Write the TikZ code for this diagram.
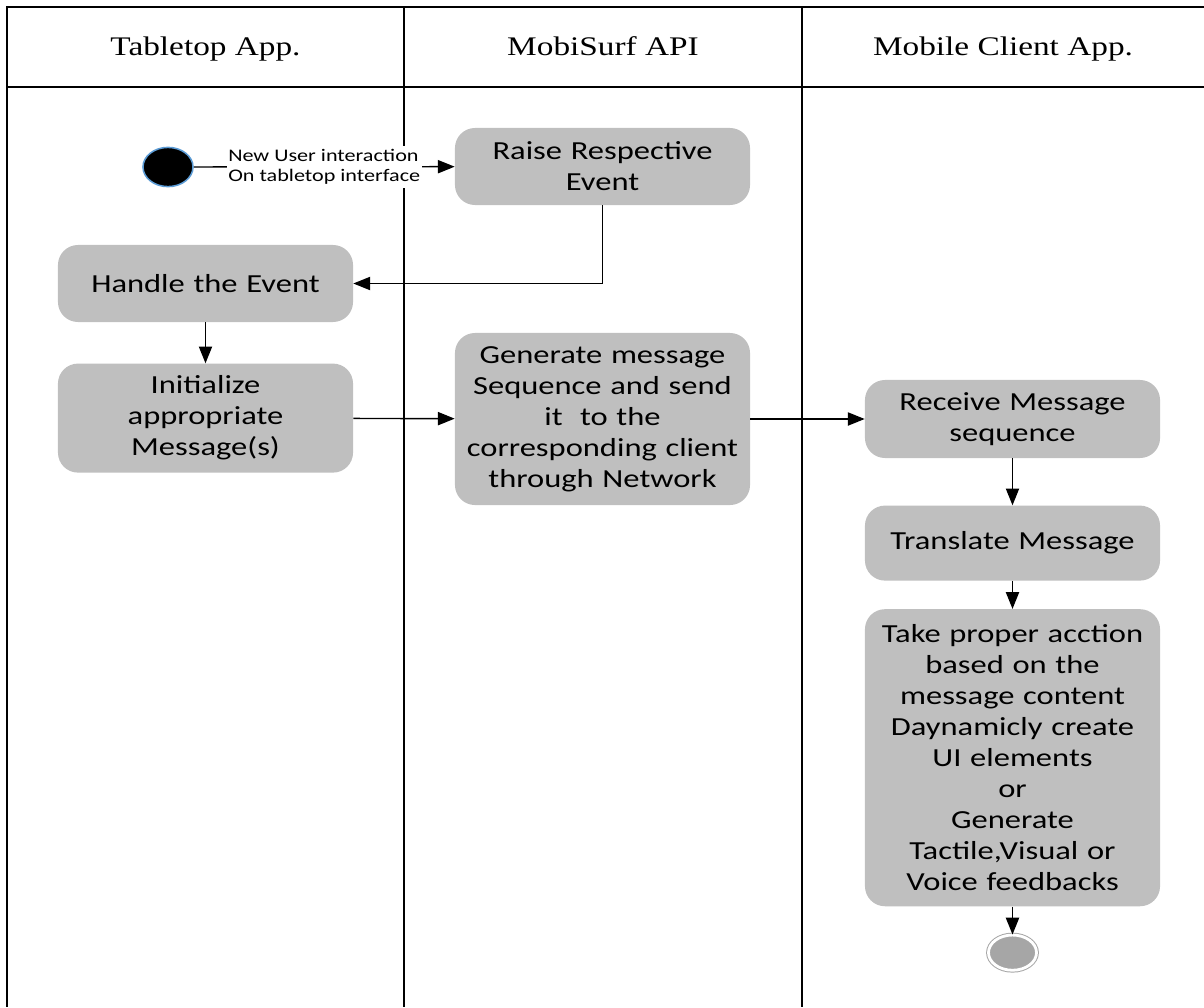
\documentclass[tikz,border=0pt]{standalone}
\usepackage{fontspec}
\setmainfont[FakeStretch=1.24]{Liberation Serif}
\newfontfamily\boxfam[FakeStretch=1.25]{Carlito}
\usetikzlibrary{arrows.meta,positioning,shapes.geometric}
\definecolor{boxgray}{HTML}{BFBFBF}
\definecolor{endgray}{HTML}{A6A6A6}
\definecolor{startblue}{HTML}{5B9BD5}
\tikzset{
    lane/.style={line width=1.4pt},
    header/.style={anchor=base, font=\fontsize{19.1pt}{23pt}\selectfont},
    activity/.style={fill=boxgray, rounded corners=0.5cm, minimum width=7.375cm,
        text width=6.9cm, align=center, inner sep=0pt,
        font=\boxfam\fontsize{18.5pt}{22pt}\selectfont},
    flow/.style={line width=1pt, -{Triangle[length=0.42cm, width=0.33cm]}},
}
\begin{document}
\begin{tikzpicture}[x=0.025cm, y=-0.025cm]
    \useasboundingbox (0,0) rectangle (1204,1007);
    \draw[lane] (1204,7) -- (7,7) -- (7,1007);
    \draw[lane] (7,87) -- (1204,87);
    \draw[lane] (404,7) -- (404,1007);
    \draw[lane] (802,7) -- (802,1007);
    \node[header] (h1) at (205.5,55) {Tabletop App.};
    \node[header] (h2) at (603,55) {MobiSurf API};
    \node[header] (h3) at (1003,55) {Mobile Client App.};
    \node[ellipse, fill=black, draw=startblue, line width=1.1pt, minimum width=1.25cm,
        minimum height=0.98cm, inner sep=0pt] (a1) at (168,167) {};
    \node[activity, minimum height=1.925cm] (a2) at (205.5,283.5) {Handle the Event};
    \node[activity, minimum height=2.725cm, below=1.025cm of a2] (a3)
        {Initialize\\appropriate\\Message(s)};
    \node[activity, minimum height=1.925cm] (b1) at (602.5,166.5) {Raise Respective\\Event};
    \node[activity, minimum height=4.3cm] (b2) at (602.5,419)
        {Generate message\\Sequence and send\\it\ \ to the\\corresponding client\\through Network};
    \node[activity, minimum height=1.95cm] (c1) at (1012.5,419) {Receive Message\\sequence};
    \node[activity, minimum height=1.875cm, below=1.175cm of c1] (c2) {Translate Message};
    \node[activity, minimum height=7.425cm, below=0.7cm of c2] (c3)
        {Take proper acction\\based on the\\message content\\Daynamicly create\\UI elements\\or\\Generate\\Tactile,Visual or\\Voice feedbacks};
    \node[ellipse, fill=endgray, draw=endgray, double=white, double distance=0.07cm,
        line width=0.7pt, minimum width=1.2cm, minimum height=0.88cm, inner sep=0pt,
        below=0.7cm of c3] (c4) {};
    \draw[flow] (a1) -- node[fill=white, inner xsep=1pt, inner ysep=2pt, align=left,
        font=\boxfam\fontsize{12.6pt}{14.9pt}\selectfont]
        {New User interaction\\On tabletop interface} (b1);
    \draw[flow] (b1.south) |- (a2.east);
    \draw[flow] (a2) -- (a3);
    \draw[flow] (a3) -- (b2);
    \draw[flow] (b2) -- (c1);
    \draw[flow] (c1) -- (c2);
    \draw[flow] (c2) -- (c3);
    \draw[flow] (c3) -- (c4);
\end{tikzpicture}
\end{document}
